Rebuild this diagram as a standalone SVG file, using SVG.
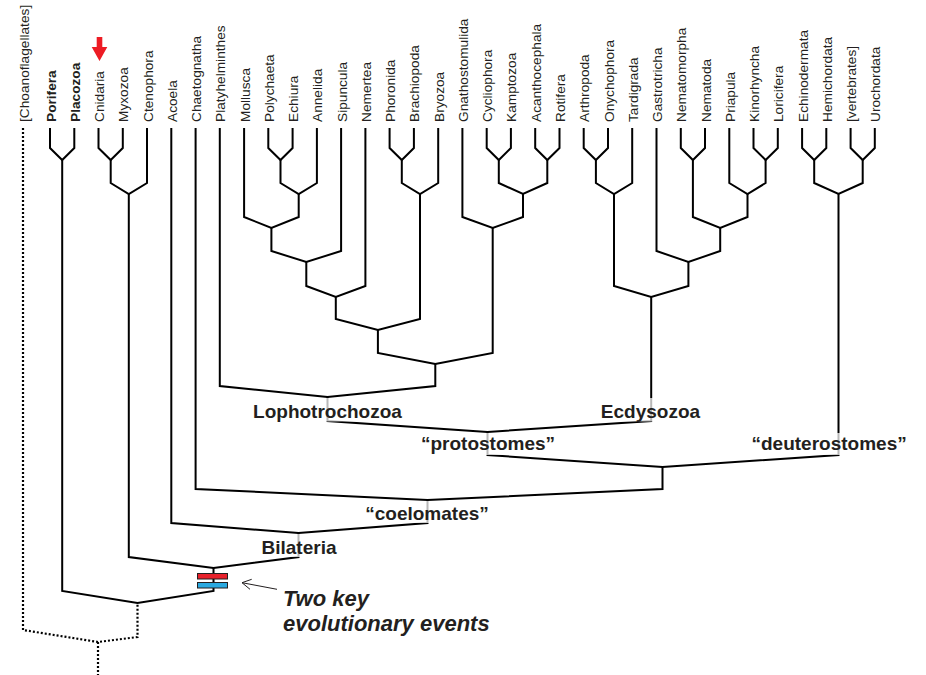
<svg xmlns="http://www.w3.org/2000/svg" width="926" height="675" viewBox="0 0 926 675">
<style>
.tip{font-family:"Liberation Sans",Arial,sans-serif;font-size:13.7px;fill:#231f20}
.b{font-weight:bold}
.clade{font-family:"Liberation Sans",Arial,sans-serif;font-size:19px;font-weight:bold;fill:#231f20}
.note{font-family:"Liberation Sans",Arial,sans-serif;font-size:22px;font-weight:bold;font-style:italic;fill:#231f20}
.br{fill:none;stroke:#000;stroke-width:2;stroke-linejoin:miter}
.dot{stroke-dasharray:2 2;stroke-width:2.2}
.lbox{fill:#fff;fill-opacity:0.72}
.ev{stroke:#231f20;stroke-width:1}
</style>
<rect width="926" height="675" fill="#fff"/>
<g id="connectors">
<path class="br dot" d="M23 128 V630 L98 642 L137.5 637 V603"/>
<path class="br dot" d="M98 642 V675"/>
<path class="br" d="M50 128 V148 L62.2 160 L74.3 148 V128"/>
<path class="br" d="M98.5 128 V148 L110.7 160 L122.8 148 V128"/>
<path class="br" d="M110.7 160 V183 L128.8 194 L147 183 V128"/>
<path class="br" d="M268.3 128 V148 L280.5 160 L292.6 148 V128"/>
<path class="br" d="M280.5 160 V183 L298.7 194 L316.9 183 V128"/>
<path class="br" d="M244.1 128 V217 L271.4 228 L298.7 217 V194"/>
<path class="br" d="M271.4 228 V251 L306.3 262 L341.1 251 V128"/>
<path class="br" d="M306.3 262 V286 L335.8 297 L365.4 286 V128"/>
<path class="br" d="M389.6 128 V148 L401.8 160 L413.9 148 V128"/>
<path class="br" d="M401.8 160 V183 L420 194 L438.2 183 V128"/>
<path class="br" d="M335.8 297 V319 L377.9 330 L420 319 V194"/>
<path class="br" d="M486.7 128 V148 L498.8 160 L510.9 148 V128"/>
<path class="br" d="M535.2 128 V148 L547.3 160 L559.5 148 V128"/>
<path class="br" d="M498.8 160 V183 L523 194 L547.3 183 V160"/>
<path class="br" d="M462.4 128 V217 L492.7 228 L523 217 V194"/>
<path class="br" d="M377.9 330 V353 L435.3 364 L492.7 353 V228"/>
<path class="br" d="M219.8 128 V386 L327.5 397 L435.3 386 V364"/>
<path class="br" d="M583.7 128 V148 L595.9 160 L608 148 V128"/>
<path class="br" d="M595.9 160 V183 L614 194 L632.2 183 V128"/>
<path class="br" d="M680.8 128 V148 L692.9 160 L705 148 V128"/>
<path class="br" d="M753.5 128 V148 L765.6 160 L777.8 148 V128"/>
<path class="br" d="M729.3 128 V183 L747.5 194 L765.6 183 V160"/>
<path class="br" d="M692.9 160 V217 L720.2 228 L747.5 217 V194"/>
<path class="br" d="M656.5 128 V251 L688.4 262 L720.2 251 V228"/>
<path class="br" d="M614 194 V286 L651.2 297 L688.4 286 V262"/>
<path class="br" d="M802.1 128 V148 L814.2 160 L826.3 148 V128"/>
<path class="br" d="M850.6 128 V148 L862.7 160 L874.8 148 V128"/>
<path class="br" d="M814.2 160 V183 L838.5 194 L862.7 183 V160"/>
<path class="br" d="M327.5 397 V421 L487.5 432 L651.2 421 V297"/>
<path class="br" d="M487.5 432 V455 L662.5 467 L838.5 455 V194"/>
<path class="br" d="M195.6 128 V489 L427.5 500 L662.5 489 V467"/>
<path class="br" d="M171.3 128 V523 L298.5 533 L427.5 523 V500"/>
<path class="br" d="M128.8 194 V557 L213.5 568 L298.5 557 V533"/>
<path class="br" d="M62.2 160 V591 L137.5 603 L213.5 591 V568"/>
<path fill="none" stroke="#231f20" stroke-width="1" d="M277 589.3 L242 582.7 M251.7 579.3 L242 582.7 L250 589.3"/>
</g>
<g id="events">
<rect class="ev" x="197.5" y="573.5" width="30" height="5.5" fill="#e8212b"/>
<rect class="ev" x="197.5" y="582.5" width="30" height="5.5" fill="#2aa9e0"/>
<text class="note" x="283" y="606">Two key</text>
<text class="note" x="283" y="631">evolutionary events</text>
</g>
<g id="marker-cnidaria">
<polygon points="96.7,37 102.3,37 102.3,47 107.3,47 99.5,61 91.7,47 96.7,47" fill="#ed1c24"/>
</g>
<g id="clade-lophotrochozoa"><rect class="lbox" x="250" y="398" width="155" height="23.5"/><text class="clade" x="327.5" y="418" text-anchor="middle">Lophotrochozoa</text></g>
<g id="clade-ecdysozoa"><rect class="lbox" x="598" y="398" width="105" height="23.5"/><text class="clade" x="650.5" y="418" text-anchor="middle">Ecdysozoa</text></g>
<g id="clade-protostomes"><rect class="lbox" x="419" y="433" width="138" height="22"/><text class="clade" x="488" y="450" text-anchor="middle">“protostomes”</text></g>
<g id="clade-deuterostomes"><rect class="lbox" x="749" y="433" width="159" height="22"/><text class="clade" x="751.5" y="450">“deuterostomes”</text></g>
<g id="clade-coelomates"><rect class="lbox" x="362" y="501" width="130" height="22"/><text class="clade" x="427" y="520" text-anchor="middle">“coelomates”</text></g>
<g id="clade-bilateria"><rect class="lbox" x="259" y="534" width="80" height="23"/><text class="clade" x="299" y="554" text-anchor="middle">Bilateria</text></g>
<g id="tips">
<g id="t-choanoflagellates"><text class="tip" transform="translate(28.5,122) rotate(-90)">[Choanoflagellates]</text></g>
<g id="t-porifera"><text class="tip b" transform="translate(55.5,122) rotate(-90)">Porifera</text></g>
<g id="t-placozoa"><text class="tip b" transform="translate(79.8,122) rotate(-90)">Placozoa</text></g>
<g id="t-cnidaria"><text class="tip" transform="translate(104,122) rotate(-90)">Cnidaria</text></g>
<g id="t-myxozoa"><text class="tip" transform="translate(128.3,122) rotate(-90)">Myxozoa</text></g>
<g id="t-ctenophora"><text class="tip" transform="translate(152.5,122) rotate(-90)">Ctenophora</text></g>
<g id="t-acoela"><text class="tip" transform="translate(176.8,122) rotate(-90)">Acoela</text></g>
<g id="t-chaetognatha"><text class="tip" transform="translate(201.1,122) rotate(-90)">Chaetognatha</text></g>
<g id="t-platyhelminthes"><text class="tip" transform="translate(225.3,122) rotate(-90)">Platyhelminthes</text></g>
<g id="t-mollusca"><text class="tip" transform="translate(249.6,122) rotate(-90)">Mollusca</text></g>
<g id="t-polychaeta"><text class="tip" transform="translate(273.8,122) rotate(-90)">Polychaeta</text></g>
<g id="t-echiura"><text class="tip" transform="translate(298.1,122) rotate(-90)">Echiura</text></g>
<g id="t-annelida"><text class="tip" transform="translate(322.4,122) rotate(-90)">Annelida</text></g>
<g id="t-sipuncula"><text class="tip" transform="translate(346.6,122) rotate(-90)">Sipuncula</text></g>
<g id="t-nemertea"><text class="tip" transform="translate(370.9,122) rotate(-90)">Nemertea</text></g>
<g id="t-phoronida"><text class="tip" transform="translate(395.1,122) rotate(-90)">Phoronida</text></g>
<g id="t-brachiopoda"><text class="tip" transform="translate(419.4,122) rotate(-90)">Brachiopoda</text></g>
<g id="t-bryozoa"><text class="tip" transform="translate(443.7,122) rotate(-90)">Bryozoa</text></g>
<g id="t-gnathostomulida"><text class="tip" transform="translate(467.9,122) rotate(-90)">Gnathostomulida</text></g>
<g id="t-cycliophora"><text class="tip" transform="translate(492.2,122) rotate(-90)">Cycliophora</text></g>
<g id="t-kamptozoa"><text class="tip" transform="translate(516.4,122) rotate(-90)">Kamptozoa</text></g>
<g id="t-acanthocephala"><text class="tip" transform="translate(540.7,122) rotate(-90)">Acanthocephala</text></g>
<g id="t-rotifera"><text class="tip" transform="translate(565,122) rotate(-90)">Rotifera</text></g>
<g id="t-arthropoda"><text class="tip" transform="translate(589.2,122) rotate(-90)">Arthropoda</text></g>
<g id="t-onychophora"><text class="tip" transform="translate(613.5,122) rotate(-90)">Onychophora</text></g>
<g id="t-tardigrada"><text class="tip" transform="translate(637.7,122) rotate(-90)">Tardigrada</text></g>
<g id="t-gastrotricha"><text class="tip" transform="translate(662,122) rotate(-90)">Gastrotricha</text></g>
<g id="t-nematomorpha"><text class="tip" transform="translate(686.3,122) rotate(-90)">Nematomorpha</text></g>
<g id="t-nematoda"><text class="tip" transform="translate(710.5,122) rotate(-90)">Nematoda</text></g>
<g id="t-priapula"><text class="tip" transform="translate(734.8,122) rotate(-90)">Priapula</text></g>
<g id="t-kinorhyncha"><text class="tip" transform="translate(759,122) rotate(-90)">Kinorhyncha</text></g>
<g id="t-loricifera"><text class="tip" transform="translate(783.3,122) rotate(-90)">Loricifera</text></g>
<g id="t-echinodermata"><text class="tip" transform="translate(807.6,122) rotate(-90)">Echinodermata</text></g>
<g id="t-hemichordata"><text class="tip" transform="translate(831.8,122) rotate(-90)">Hemichordata</text></g>
<g id="t-vertebrates"><text class="tip" transform="translate(856.1,122) rotate(-90)">[vertebrates]</text></g>
<g id="t-urochordata"><text class="tip" transform="translate(880.3,122) rotate(-90)">Urochordata</text></g>
</g>
</svg>
